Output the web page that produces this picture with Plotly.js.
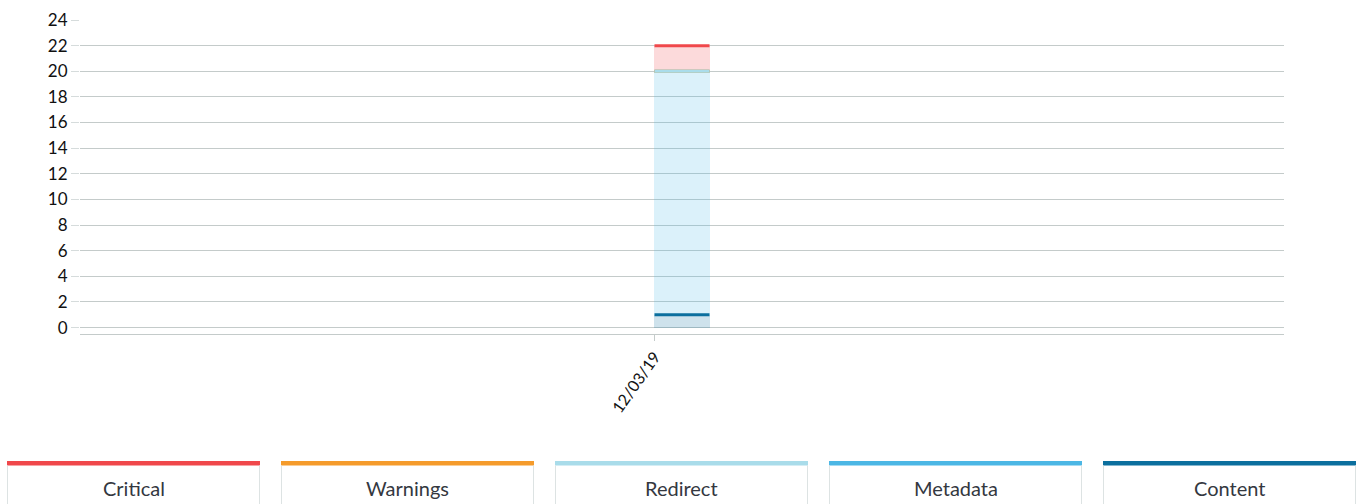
<!DOCTYPE html>
<html><head><meta charset="utf-8">
<script src="https://cdn.plot.ly/plotly-3.0.1.min.js"></script>
<style>html,body{margin:0;padding:0;background:#fff}#chart{width:1361px;height:504px}</style>
</head><body><div id="chart"></div>
<script>
// ---- data ----
const categories = ['12/03/19'];
const legendNames = ['Critical', 'Warnings', 'Redirect', 'Metadata', 'Content'];
const critical = [2];
const warnings = [0];
const redirect = [0];
const metadata = [19];
const content = [1];
const yTickValues = [0, 2, 4, 6, 8, 10, 12, 14, 16, 18, 20, 22, 24];

// ---- styles ----
const colors = {Critical: '#f0484b', Warnings: '#f59b2b', Redirect: '#a9dcea', Metadata: '#4cb7e5', Content: '#0b6f9e'};
const fills = {Critical: 'rgba(240,72,75,0.2)', Warnings: 'rgba(245,155,43,0.2)', Redirect: 'rgba(169,220,234,0.2)', Metadata: 'rgba(76,183,229,0.2)', Content: 'rgba(11,111,158,0.2)'};
const seriesData = {Critical: critical, Warnings: warnings, Redirect: redirect, Metadata: metadata, Content: content};
const stackOrder = ['Content', 'Metadata', 'Warnings', 'Redirect', 'Critical'];
const barWidth = 0.0457;
const gridColor = '#c4cbca';

const traces = stackOrder.map(name => ({
  type: 'bar', name: name, x: categories, y: seriesData[name], width: barWidth, offset: 0,
  marker: {color: fills[name], line: {width: 0}}, hoverinfo: 'skip'
}));

const shapes = [];
// top lines of each stacked segment
categories.forEach((c, i) => {
  let cum = 0;
  stackOrder.forEach(name => {
    cum += seriesData[name][i];
    shapes.push({type: 'line', xref: 'x', yref: 'y', x0: i, x1: i + barWidth,
      y0: cum, y1: cum, line: {color: colors[name], width: 3}});
  });
});

// legend boxes below the chart (pixel helpers -> paper coords)
const L = 80, W = 1204, T = 20, H = 314;
const px = v => (v - L) / W;
const py = v => (T + H - v) / H;
const annotations = [];
legendNames.forEach((name, k) => {
  const x0 = 7 + k * 274, x1 = x0 + 253;
  shapes.push({type: 'rect', xref: 'paper', yref: 'paper', x0: px(x0), x1: px(x1), y0: py(465.5), y1: py(461),
    fillcolor: colors[name], line: {width: 0}});
  shapes.push({type: 'line', xref: 'paper', yref: 'paper', x0: px(x0 + 0.5), x1: px(x0 + 0.5), y0: py(465.5), y1: py(506),
    line: {color: '#dde3e3', width: 1}});
  shapes.push({type: 'line', xref: 'paper', yref: 'paper', x0: px(x1 - 0.5), x1: px(x1 - 0.5), y0: py(465.5), y1: py(506),
    line: {color: '#dde3e3', width: 1}});
  annotations.push({xref: 'paper', yref: 'paper', x: px((x0 + x1) / 2), y: py(488), text: name, showarrow: false,
    xanchor: 'center', yanchor: 'middle', font: {family: 'Lato', size: 20, color: '#34383f'}});
});

const layout = {
  width: 1361, height: 504,
  margin: {l: L, r: 1361 - L - W, t: T, b: 504 - T - H, pad: 0},
  paper_bgcolor: '#fff', plot_bgcolor: '#fff',
  font: {family: 'Lato', size: 17, color: '#111'},
  barmode: 'stack', showlegend: false,
  xaxis: {type: 'category', range: [-0.5 + barWidth / 2, 0.5 + barWidth / 2], showgrid: false, zeroline: false,
    showline: true, linecolor: gridColor, linewidth: 1,
    ticks: 'outside', ticklen: 6, tickcolor: gridColor, tickwidth: 1,
    tickangle: -55, tickfont: {family: 'Lato', size: 16, color: '#111'}},
  yaxis: {range: [-0.5, 24], tickvals: yTickValues, ticktext: yTickValues.map(String),
    showgrid: true, gridcolor: gridColor, gridwidth: 1, zeroline: false, showline: false,
    ticks: 'outside', ticklen: 8, tickcolor: '#d6dcdc', tickwidth: 1,
    tickfont: {family: 'Lato', size: 17, color: '#111'}},
  shapes: shapes, annotations: annotations
};

Plotly.newPlot('chart', traces, layout, {displayModeBar: false, staticPlot: true});
</script>
</body></html>
